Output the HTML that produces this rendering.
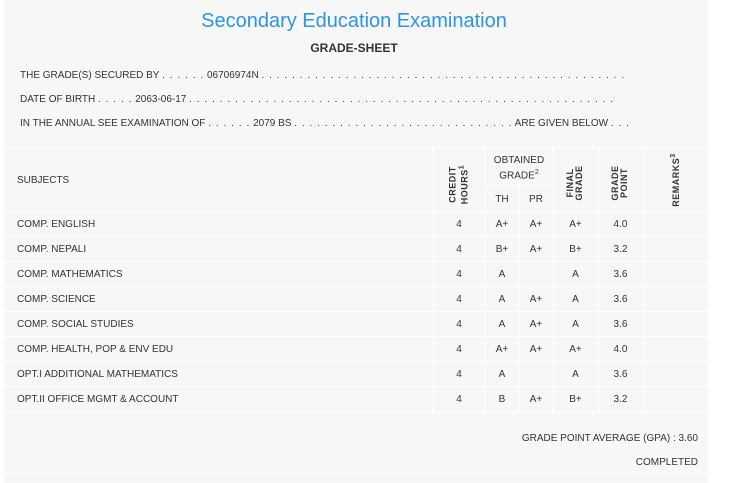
<!DOCTYPE html><html><head><style>
body{margin:0;width:734px;height:483px;background:#fff;position:relative;overflow:hidden;font-family:"Liberation Sans",sans-serif;color:#333;font-size:10px}
.p{position:absolute;left:4px;top:0;width:704px;height:483px;background:#f7f7f7}
.t{position:absolute;white-space:nowrap}
.d{letter-spacing:1.05px}
.h{position:absolute;background:#fff;height:1px}
.v{position:absolute;background:#fff;width:1px}
.c{position:absolute;text-align:center;white-space:nowrap}
.r{position:absolute;transform:rotate(-90deg);font-weight:bold;font-size:9px;text-align:center;line-height:9px;white-space:nowrap;letter-spacing:0.5px}
</style></head><body>
<div class="p"></div>
<div class="t" style="left:0;width:708px;text-align:center;top:10px;font-size:20px;color:#2b95e9">Secondary Education Examination</div>
<div class="t" style="left:0;width:708px;text-align:center;top:41px;font-size:12px;font-weight:bold">GRADE-SHEET</div>
<div class="t" style="left:20px;top:70px">THE GRADE(S) SECURED BY <span class="d">. . . . . .</span> 06706974N <span class="d">. . . . . . . . . . . . . . . . . . . . . . . . . . . . . . . . . . . . . . . . . . . . . . . .</span></div>
<div class="t" style="left:20px;top:94px">DATE OF BIRTH <span class="d">. . . . .</span> 2063-06-17 <span class="d">. . . . . . . . . . . . . . . . . . . . . . . . . . . . . . . . . . . . . . . . . . . . . . . . . . . . . . . .</span></div>
<div class="t" style="left:20px;top:118px">IN THE ANNUAL SEE EXAMINATION OF <span class="d">. . . . . .</span> 2079 BS <span class="d">. . . . . . . . . . . . . . . . . . . . . . . . . . . . .</span> ARE GIVEN BELOW <span class="d">. . .</span></div>
<div class="h" style="left:4px;width:704px;top:147px"></div>
<div class="h" style="left:4px;width:704px;top:211px"></div>
<div class="h" style="left:485px;width:68px;top:185px"></div>
<div class="h" style="left:4px;width:704px;top:236px"></div>
<div class="h" style="left:4px;width:704px;top:261px"></div>
<div class="h" style="left:4px;width:704px;top:286px"></div>
<div class="h" style="left:4px;width:704px;top:311px"></div>
<div class="h" style="left:4px;width:704px;top:336px"></div>
<div class="h" style="left:4px;width:704px;top:361px"></div>
<div class="h" style="left:4px;width:704px;top:386px"></div>
<div class="h" style="left:4px;width:704px;top:412px"></div>
<div class="h" style="left:4px;width:704px;top:473px"></div>
<div class="v" style="left:433px;top:147px;height:265px"></div>
<div class="v" style="left:485px;top:147px;height:265px"></div>
<div class="v" style="left:519px;top:186px;height:226px"></div>
<div class="v" style="left:553px;top:147px;height:265px"></div>
<div class="v" style="left:598px;top:147px;height:265px"></div>
<div class="v" style="left:643px;top:147px;height:265px"></div>
<div class="t" style="left:17px;top:175px">SUBJECTS</div>
<div class="r" style="left:429px;top:174px;width:60px">CREDIT<br>HOURS<sup style="font-size:7px">1</sup></div>
<div class="c" style="left:485px;width:68px;top:155px;line-height:12px">OBTAINED<br>GRADE<sup style="font-size:7px">2</sup></div>
<div class="c" style="left:485px;width:34px;top:194px">TH</div>
<div class="c" style="left:519px;width:34px;top:194px">PR</div>
<div class="r" style="left:545px;top:174px;width:60px">FINAL<br>GRADE</div>
<div class="r" style="left:590px;top:174px;width:60px">GRADE<br>POINT</div>
<div class="r" style="left:645px;top:174px;width:60px">REMARKS<sup style="font-size:7px">3</sup></div>
<div id="rows"></div>
<div class="t" style="right:36px;top:433px">GRADE POINT AVERAGE (GPA) : 3.60</div>
<div class="t" style="right:36px;top:457px">COMPLETED</div>
<script>
var d=[["COMP. ENGLISH","A+","A+","A+","4.0"],["COMP. NEPALI","B+","A+","B+","3.2"],["COMP. MATHEMATICS","A","","A","3.6"],["COMP. SCIENCE","A","A+","A","3.6"],["COMP. SOCIAL STUDIES","A","A+","A","3.6"],["COMP. HEALTH, POP &amp; ENV EDU","A+","A+","A+","4.0"],["OPT.I ADDITIONAL MATHEMATICS","A","","A","3.6"],["OPT.II OFFICE MGMT &amp; ACCOUNT","B","A+","B+","3.2"]];
var h="";d.forEach(function(r,i){var y=219+i*25;
h+='<div class="t" style="left:17px;top:'+y+'px">'+r[0]+'</div>'+
'<div class="c" style="left:433px;width:52px;top:'+y+'px">4</div>'+
'<div class="c" style="left:485px;width:34px;top:'+y+'px">'+r[1]+'</div>'+
'<div class="c" style="left:519px;width:34px;top:'+y+'px">'+r[2]+'</div>'+
'<div class="c" style="left:553px;width:45px;top:'+y+'px">'+r[3]+'</div>'+
'<div class="c" style="left:598px;width:45px;top:'+y+'px">'+r[4]+'</div>';});
document.getElementById("rows").innerHTML=h;
</script>
</body></html>
